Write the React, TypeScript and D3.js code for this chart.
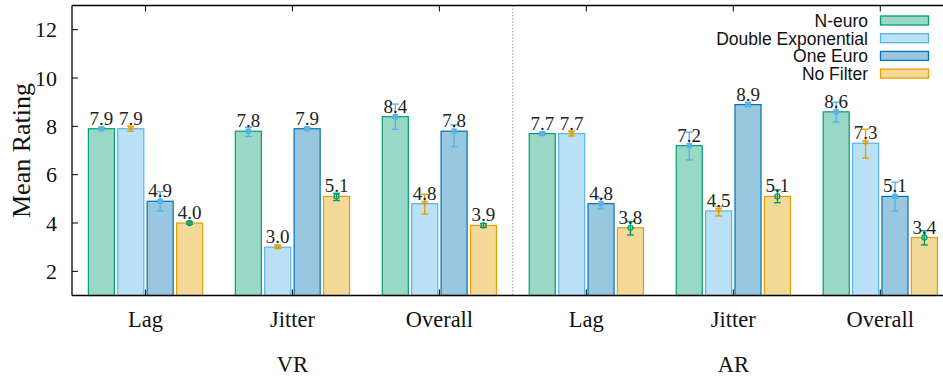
import React from "react";
import * as d3 from "d3";

// Categories along the x axis (two environments, three measures each)
const categories = ["Lag", "Jitter", "Overall", "Lag", "Jitter", "Overall"];
const groupLabels = ["VR", "AR"];
const groupCenters = [1, 4];
const seriesNames = ["N-euro", "Double Exponential", "One Euro", "No Filter"];

// Mean ratings per series
const nEuro = [7.9, 7.8, 8.4, 7.7, 7.2, 8.6];
const doubleExp = [7.9, 3.0, 4.8, 7.7, 4.5, 7.3];
const oneEuro = [4.9, 7.9, 7.8, 4.8, 8.9, 5.1];
const noFilter = [4.0, 5.1, 3.9, 3.8, 5.1, 3.4];

// Error bar extents (low / high)
const nEuroLow = [7.85, 7.58, 7.88, 7.65, 6.61, 8.17];
const nEuroHigh = [7.95, 7.96, 8.92, 7.75, 7.76, 9.0];
const doubleExpLow = [7.8, 2.95, 4.37, 7.6, 4.29, 6.68];
const doubleExpHigh = [8.0, 3.05, 5.19, 7.8, 4.68, 7.88];
const oneEuroLow = [4.5, 7.85, 7.16, 4.58, 8.82, 4.5];
const oneEuroHigh = [5.3, 7.95, 8.06, 5.02, 9.0, 5.69];
const noFilterLow = [3.95, 4.93, 3.82, 3.5, 4.84, 3.09];
const noFilterHigh = [4.05, 5.23, 3.98, 4.06, 5.37, 3.68];

const yTicks = [2, 4, 6, 8, 10, 12];

const series = [
  { name: seriesNames[0], values: nEuro, low: nEuroLow, high: nEuroHigh, stroke: "#009e73", fill: "#99d8c7", err: "#56b4e9", marker: "square" },
  { name: seriesNames[1], values: doubleExp, low: doubleExpLow, high: doubleExpHigh, stroke: "#56b4e9", fill: "#bbe1f6", err: "#e69f00", marker: "triangle" },
  { name: seriesNames[2], values: oneEuro, low: oneEuroLow, high: oneEuroHigh, stroke: "#0072b2", fill: "#99c7e0", err: "#56b4e9", marker: "square" },
  { name: seriesNames[3], values: noFilter, low: noFilterLow, high: noFilterHigh, stroke: "#e69f00", fill: "#f5d999", err: "#009e73", marker: "circle" },
];

const W = 943;
const H = 377;
const plot = { left: 72, right: 942, top: 5.5, bottom: 295.5 };
const serif = "'Liberation Serif', 'Times New Roman', serif";
const sans = "'Liberation Sans', Arial, sans-serif";

export default function App() {
  const x = d3.scaleLinear().domain([-0.5, 5.42]).range([plot.left, plot.right]);
  const y = d3.scaleLinear().domain([1, 13]).range([plot.bottom, plot.top]);
  const pitch = 0.2;
  const barW = x(0.184) - x(0);
  const cap = 3.5;

  const marker = (kind: string, cx: number, cy: number, color: string) => {
    if (kind === "square") {
      return <rect x={cx - 2} y={cy - 2} width={4} height={4} fill={color} />;
    }
    if (kind === "triangle") {
      const p = d3.path();
      p.moveTo(cx - 3, cy - 2.5);
      p.lineTo(cx + 3, cy - 2.5);
      p.lineTo(cx, cy + 2.5);
      p.closePath();
      return <path d={p.toString()} fill={color} fillOpacity={0.6} stroke={color} strokeWidth={1} />;
    }
    return <circle cx={cx} cy={cy} r={2.5} fill="none" stroke={color} strokeWidth={1.3} />;
  };

  return (
    <div style={{ position: "fixed", left: 0, top: 0 }}>
      <svg width={W} height={H} viewBox={`0 0 ${W} ${H}`} style={{ display: "block", background: "#fff" }}>
        {/* separator between VR and AR */}
        <line x1={x(2.5)} x2={x(2.5)} y1={plot.top} y2={plot.bottom} stroke="#777" strokeWidth={1} strokeDasharray="1.2,2" />

        {/* bars */}
        {series.map((s, si) =>
          s.values.map((v, i) => {
            const cx = x(i + (si - 1.5) * pitch);
            return (
              <rect
                key={`b-${si}-${i}`}
                x={cx - barW / 2 + 0.5}
                y={y(v)}
                width={barW - 1}
                height={y(1) - y(v)}
                fill={s.fill}
                stroke={s.stroke}
                strokeWidth={1.2}
              />
            );
          })
        )}

        {/* error bars */}
        {series.map((s, si) =>
          s.values.map((v, i) => {
            const cx = x(i + (si - 1.5) * pitch);
            const yl = y(s.low[i]);
            const yh = y(s.high[i]);
            return (
              <g key={`e-${si}-${i}`} stroke={s.err} strokeWidth={1.4}>
                <line x1={cx} x2={cx} y1={yl} y2={yh} />
                <line x1={cx - cap} x2={cx + cap} y1={yl} y2={yl} />
                <line x1={cx - cap} x2={cx + cap} y1={yh} y2={yh} />
                {marker(s.marker, cx, y(v), s.err)}
              </g>
            );
          })
        )}

        {/* value labels */}
        {series.map((s, si) =>
          s.values.map((v, i) => (
            <text
              key={`l-${si}-${i}`}
              x={x(i + (si - 1.5) * pitch)}
              y={y(v) - 4}
              textAnchor="middle"
              fontFamily={serif}
              fontSize={19}
              fill="#222"
            >
              {v.toFixed(1)}
            </text>
          ))
        )}

        {/* axes frame */}
        <g stroke="#000" strokeWidth={1.3} fill="none">
          <line x1={plot.left} x2={plot.right + 1} y1={plot.top} y2={plot.top} />
          <line x1={plot.left} x2={plot.right + 1} y1={plot.bottom} y2={plot.bottom} />
          <line x1={plot.left} x2={plot.left} y1={plot.top} y2={plot.bottom} />
        </g>

        {/* y ticks */}
        {yTicks.map((t) => (
          <g key={`yt-${t}`}>
            <line x1={plot.left} x2={plot.left + 6} y1={y(t)} y2={y(t)} stroke="#000" strokeWidth={1} />
            <text x={57} y={y(t)} dy="0.35em" textAnchor="end" fontFamily={serif} fontSize={22} fill="#111">
              {t}
            </text>
          </g>
        ))}

        {/* x ticks and category labels */}
        {categories.map((c, i) => (
          <g key={`xt-${i}`}>
            <line x1={x(i)} x2={x(i)} y1={plot.bottom} y2={plot.bottom - 6} stroke="#000" strokeWidth={1} />
            <line x1={x(i)} x2={x(i)} y1={plot.top} y2={plot.top + 6} stroke="#000" strokeWidth={1} />
            <text x={x(i)} y={327} textAnchor="middle" fontFamily={serif} fontSize={22.5} fill="#111">
              {c}
            </text>
          </g>
        ))}

        {groupLabels.map((g, gi) => (
          <text key={`g-${g}`} x={x(groupCenters[gi])} y={372} textAnchor="middle" fontFamily={serif} fontSize={22.5} fill="#111">
            {g}
          </text>
        ))}

        {/* y axis title */}
        <text
          transform={`translate(30, ${(plot.top + plot.bottom) / 2}) rotate(-90)`}
          textAnchor="middle"
          fontFamily={serif}
          fontSize={26}
          fill="#111"
        >
          Mean Rating
        </text>

        {/* legend */}
        {series.map((s, si) => {
          const ly = 20.5 + si * 17.7;
          return (
            <g key={`lg-${si}`}>
              <text x={868} y={ly} dy="0.36em" textAnchor="end" fontFamily={sans} fontSize={17.5} fill="#111">
                {s.name}
              </text>
              <rect x={880.5} y={ly - 4.5} width={48} height={9} fill={s.fill} stroke={s.stroke} strokeWidth={1.3} />
            </g>
          );
        })}
      </svg>
    </div>
  );
}
